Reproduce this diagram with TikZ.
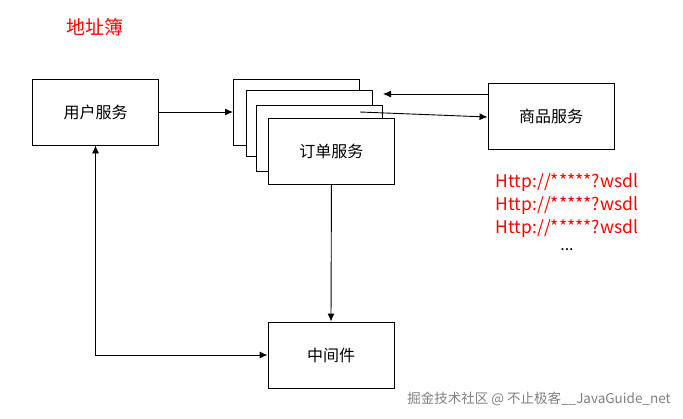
\documentclass[tikz,border=0pt]{standalone}
\usepackage{fontspec}
\setmainfont{Noto Sans CJK SC}
\usetikzlibrary{arrows.meta, positioning}

\begin{document}
\begin{tikzpicture}[x=1pt, y=-1pt, line width=0.9pt, >={Latex[length=8pt,width=7pt]},
    svc/.style={draw, fill=white, minimum width=126pt, minimum height=66pt, inner sep=0pt, font=\fontsize{16}{18}\selectfont},
    url/.style={text=red, font=\fontsize{17.5}{20}\selectfont}]
  \useasboundingbox (0,0) rectangle (683,418);

  % Title
  \node[text=red, font=\fontsize{19}{21}\selectfont] (title) at (95,27) {地址簿};

  % Services
  \node[svc] (user) at (95.5,112) {用户服务};
  \node[svc, anchor=north west] (order1) at (233,79) {};
  \node[svc, anchor=north west] (order2) at (246,90) {};
  \node[svc, anchor=north west] (order3) at (256,105) {};
  \node[svc, anchor=north west] (order) at (268,118) {订单服务};
  \node[svc] (goods) at (551,116.5) {商品服务};
  \node[svc] (mq) at (331,355) {中间件};

  % Connectors
  \coordinate (callout) at (360,112);
  \coordinate (callin) at (383,94);
  \draw[->] (user.east) -- (order1.west |- user.east);
  \draw[->] (goods.west |- callin) -- (callin);
  \draw[->] (callout) -- (goods.west |- 0,117);
  \draw[->] (order.south) -- (mq.north);
  \draw[<->] (user.south) |- (mq.west);

  % Addresses
  \node[url] (u1) at (567,183) {Http://*****?wsdl};
  \node[url] (u2) at (567,206) {Http://*****?wsdl};
  \node[url] (u3) at (567,229) {Http://*****?wsdl};
  \node[font=\fontsize{16}{18}\selectfont] (dots) at (567,250) {...};

  \node[text=gray, font=\fontsize{13.5}{15}\selectfont] (mark) at (539,399) {掘金技术社区 @ 不止极客\_\_JavaGuide\_net};
\end{tikzpicture}
\end{document}
